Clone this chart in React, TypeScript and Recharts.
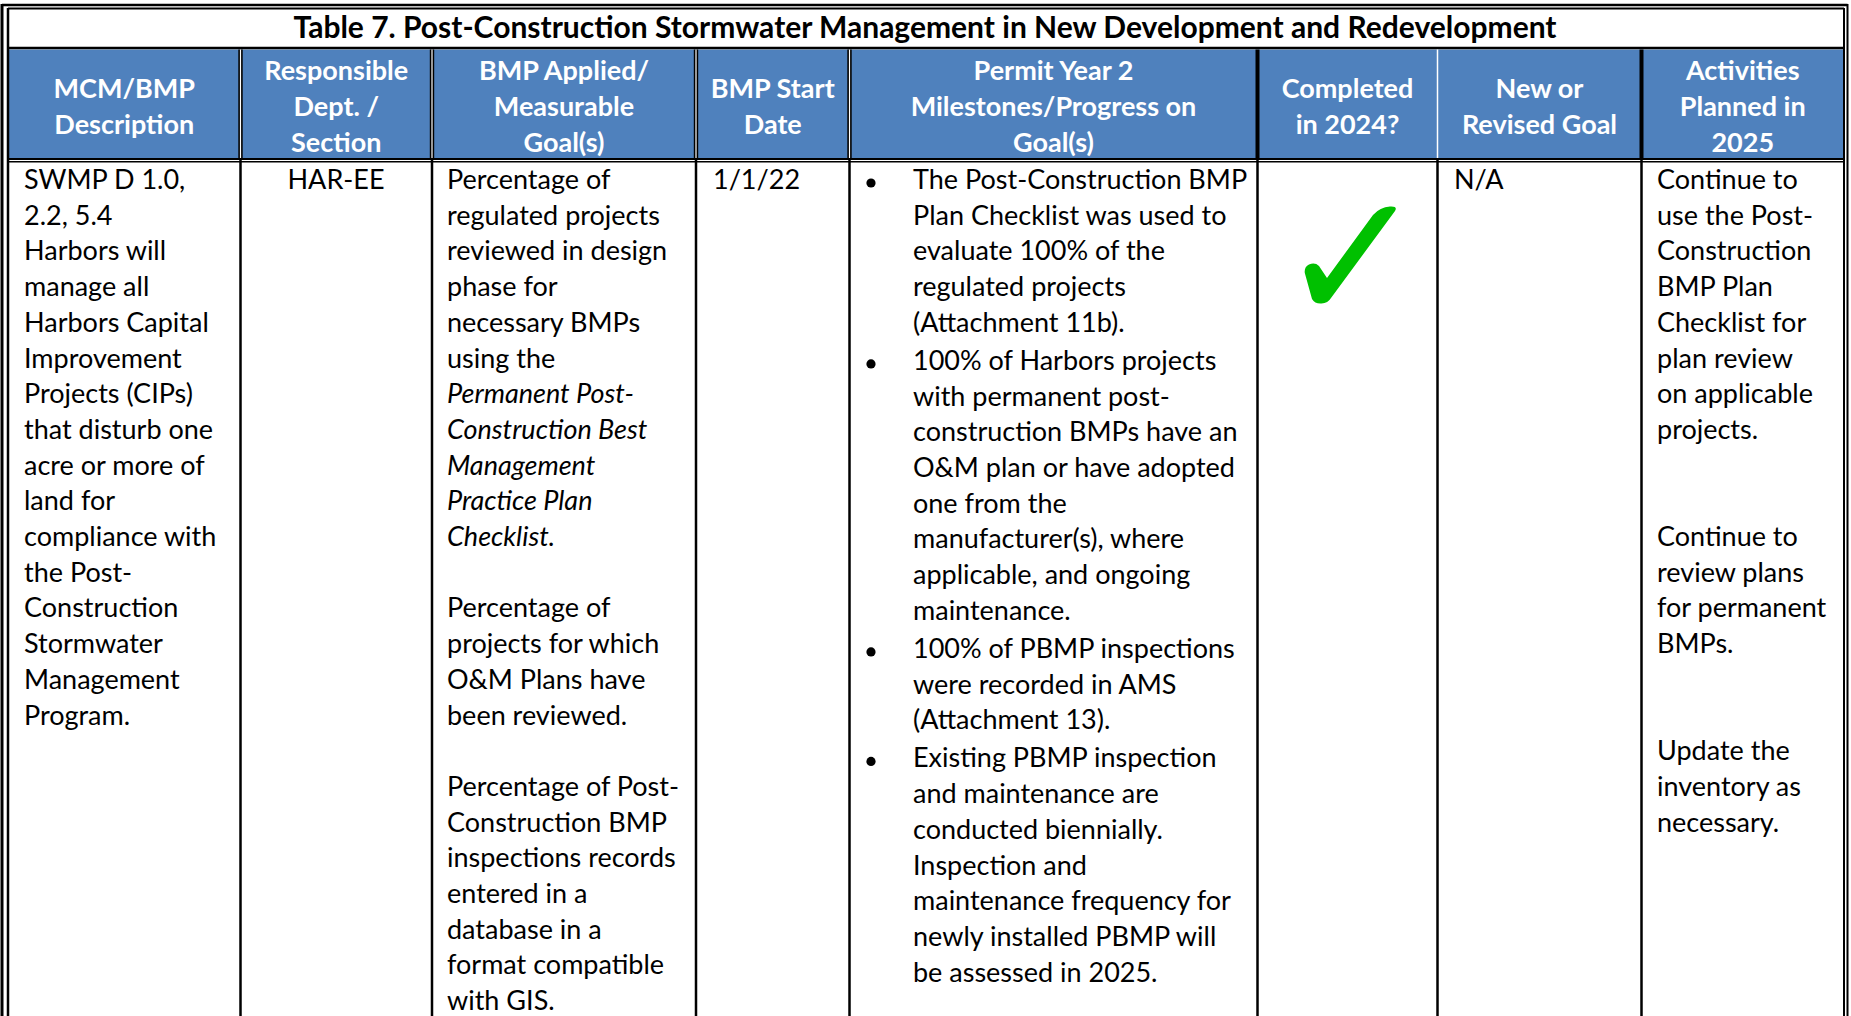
import { Surface, Layer, Text } from "recharts";

const title = "Table 7. Post-Construction Stormwater Management in New Development and Redevelopment";

const headers = [
  ["MCM/BMP", "Description"],
  ["Responsible", "Dept. /", "Section"],
  ["BMP Applied/", "Measurable", "Goal(s)"],
  ["BMP Start", "Date"],
  ["Permit Year 2", "Milestones/Progress on", "Goal(s)"],
  ["Completed", "in 2024?"],
  ["New or", "Revised Goal"],
  ["Activities", "Planned in", "2025"],
];

const descriptionLines = [
  "SWMP D 1.0,", "2.2, 5.4", "Harbors will", "manage all", "Harbors Capital", "Improvement",
  "Projects (CIPs)", "that disturb one", "acre or more of", "land for", "compliance with",
  "the Post-", "Construction", "Stormwater", "Management", "Program.",
];
const deptLines = ["HAR-EE"];
const goalLines = [
  "Percentage of", "regulated projects", "reviewed in design", "phase for", "necessary BMPs", "using the",
  "Permanent Post-", "Construction Best", "Management", "Practice Plan", "Checklist.",
  "",
  "Percentage of", "projects for which", "O&M Plans have", "been reviewed.",
  "",
  "Percentage of Post-", "Construction BMP", "inspections records", "entered in a", "database in a",
  "format compatible", "with GIS.",
];
const goalItalic = ["Permanent Post-", "Construction Best", "Management", "Practice Plan", "Checklist."];
const startDate = ["1/1/22"];
const progressBullets = [
  ["The Post-Construction BMP", "Plan Checklist was used to", "evaluate 100% of the", "regulated projects", "(Attachment 11b)."],
  ["100% of Harbors projects", "with permanent post-", "construction BMPs have an", "O&M plan or have adopted",
    "one from the", "manufacturer(s), where", "applicable, and ongoing", "maintenance."],
  ["100% of PBMP inspections", "were recorded in AMS", "(Attachment 13)."],
  ["Existing PBMP inspection", "and maintenance are", "conducted biennially.", "Inspection and",
    "maintenance frequency for", "newly installed PBMP will", "be assessed in 2025."],
];
const completed = [true];
const newGoal = ["N/A"];
const plannedLines = [
  "Continue to", "use the Post-", "Construction", "BMP Plan", "Checklist for", "plan review", "on applicable", "projects.",
  "", "",
  "Continue to", "review plans", "for permanent", "BMPs.",
  "", "",
  "Update the", "inventory as", "necessary.",
];

const W = 1851;
const H = 1016;
const FONT = "Lato, 'Noto Sans', sans-serif";
const FS = 27;
const LH = 35.7;
const PARA = 2.4; // extra space between bullet paragraphs
const BLUE = "#4F81BD";
const FIRST = 189;

// column dividers
const cols = [8, 240.5, 432, 696, 849.5, 1257.5, 1437.5, 1641.5, 1844];
const headerDivStyle = ["dbl", "dbl", "dbl", "dbl", "solid", "white", "solid"];

function Line({ x1, y1, x2, y2, w = 2.5, c = "#000" }: any) {
  return <line x1={x1} y1={y1} x2={x2} y2={y2} stroke={c} strokeWidth={w} />;
}

function T({ x, y, children, anchor = "start", bold = false, italic = false, fill = "#000", size = FS }: any) {
  return (
    <Text x={x} y={y} textAnchor={anchor} verticalAnchor="end" fontSize={size} fontFamily={FONT}
      fontWeight={bold ? 700 : 400} fontStyle={italic ? "italic" : "normal"} fill={fill}>
      {children}
    </Text>
  );
}

function CheckMark({ x, y }: any) {
  return (
    <path
      transform={`translate(${x},${y})`}
      fill="#00C000"
      d="M 91 5 Q 94 0 86 0.5 Q 76 1 69 9 L 23 72 L 15 60 Q 11 56 5 58.5 Q 0 61 0.8 67 L 8 93 Q 11 98 17.5 97.5 Q 24 97 27 92 Z"
    />
  );
}

function App() {
  const by = (i: number) => FIRST + i * LH;
  let bi = 0;
  return (
    <div style={{ position: "absolute", left: 0, top: 0, width: W, height: H, overflow: "hidden", background: "#fff" }}>
      <Surface width={W} height={H}>
        {/* header band */}
        <rect x={8} y={49.5} width={1836} height={108.5} fill={BLUE} />

        {/* title */}
        <T x={925} y={38} anchor="middle" bold size={30}>{title}</T>

        {/* header text */}
        {headers.map((h, i) => {
          const cx = (cols[i] + cols[i + 1]) / 2;
          const start = h.length === 3 ? 80 : 97.9;
          return (
            <Layer key={i}>
              {h.map((s, j) => (
                <T key={j} x={cx} y={start + j * 35.8} anchor="middle" bold fill="#fff">{s}</T>
              ))}
            </Layer>
          );
        })}

        {/* outer double border */}
        <Line x1={2} y1={5} x2={1847.5} y2={5} w={2.5} />
        <Line x1={8} y1={8.5} x2={1844} y2={8.5} w={2} />
        <Line x1={2} y1={4} x2={2} y2={H} w={3} />
        <Line x1={8} y1={8} x2={8} y2={H} w={2.5} />
        <Line x1={1847.5} y1={4} x2={1847.5} y2={H} w={2} />
        <Line x1={1844} y1={8} x2={1844} y2={H} w={2} />

        {/* title/header separator */}
        <Line x1={8} y1={48} x2={1844} y2={48} w={2.6} />
        {/* header/body double line */}
        <Line x1={8} y1={159} x2={1844} y2={159} w={2} />
        <Line x1={8} y1={161.8} x2={1844} y2={161.8} w={1.6} />

        {/* header dividers */}
        {headerDivStyle.map((s, i) => {
          const x = cols[i + 1];
          if (s === "white") return <Line key={i} x1={x} y1={49.5} x2={x} y2={158} w={1.5} c="#fff" />;
          if (s === "solid") return <Line key={i} x1={x} y1={49.5} x2={x} y2={158} w={4} />;
          return (
            <Layer key={i}>
              <Line x1={x} y1={49.5} x2={x} y2={158} w={4.4} />
              <Line x1={x} y1={49.5} x2={x} y2={158} w={1.2} c="#fff" />
            </Layer>
          );
        })}

        {/* body dividers */}
        {cols.slice(1, -1).map((x, i) => (
          <Line key={i} x1={x} y1={160} x2={x} y2={H} w={2.5} />
        ))}

        {/* body text */}
        {descriptionLines.map((s, i) => <T key={"d" + i} x={24} y={by(i)}>{s}</T>)}
        {deptLines.map((s, i) => <T key={"r" + i} x={336} y={by(i)} anchor="middle">{s}</T>)}
        {goalLines.map((s, i) =>
          s ? <T key={"g" + i} x={447} y={by(i)} italic={goalItalic.includes(s)}>{s}</T> : null
        )}
        {startDate.map((s, i) => <T key={"s" + i} x={713} y={by(i)}>{s}</T>)}
        {progressBullets.map((b, k) => {
          const first = bi;
          const off = k * PARA;
          return (
            <Layer key={"p" + k}>
              <circle cx={871} cy={by(first) + off - 6} r={4.6} fill="#000" />
              {b.map((s) => {
                const y = by(bi++) + off;
                return <T key={s} x={913} y={y}>{s}</T>;
              })}
            </Layer>
          );
        })}
        {completed.map((c, i) => (c ? <CheckMark key={"c" + i} x={1304} y={206} /> : null))}
        {newGoal.map((s, i) => <T key={"n" + i} x={1454} y={by(i)}>{s}</T>)}
        {plannedLines.map((s, i) => (s ? <T key={"a" + i} x={1657} y={by(i)}>{s}</T> : null))}
      </Surface>
    </div>
  );
}

export default App;
